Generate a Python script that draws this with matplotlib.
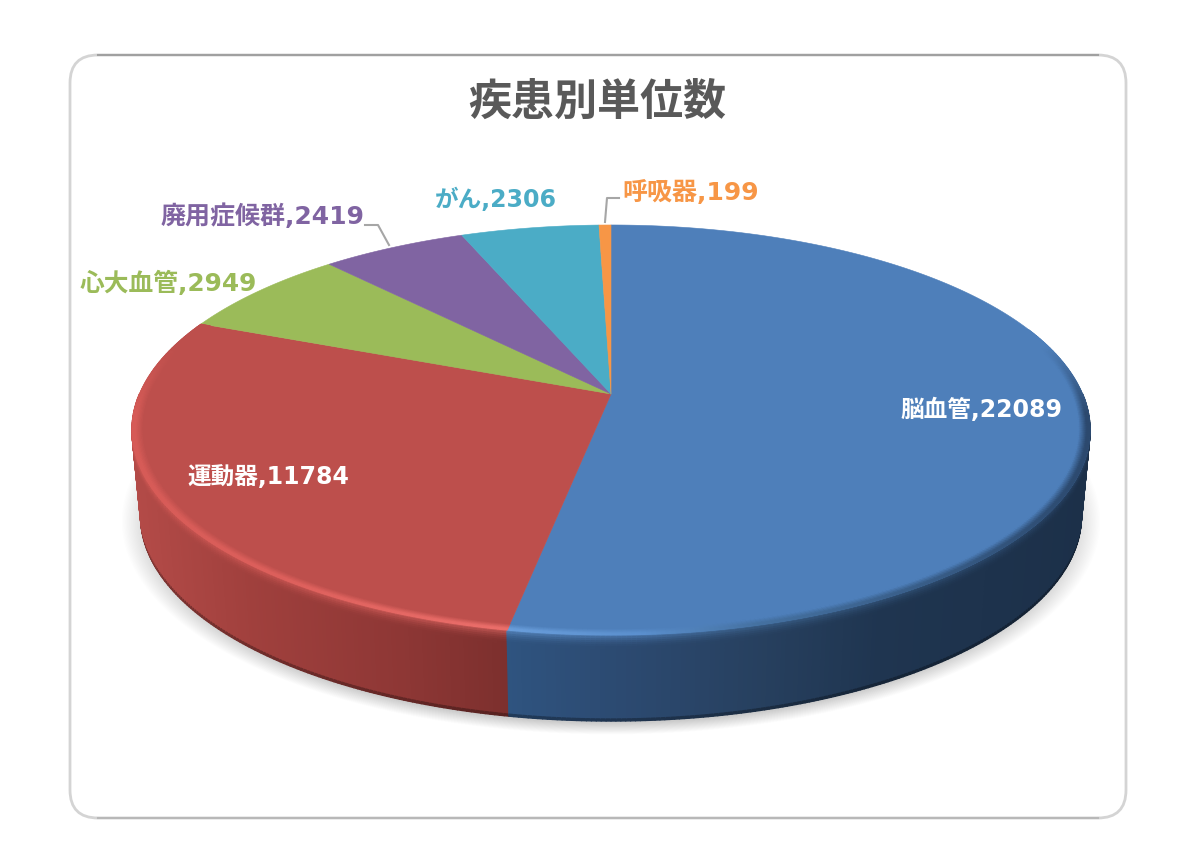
import numpy as np
import matplotlib
matplotlib.use("Agg")
import matplotlib.pyplot as plt
from matplotlib.collections import PolyCollection
from matplotlib.colors import to_rgb
from matplotlib.patches import FancyBboxPatch, Polygon

plt.rcParams['font.family'] = ['DejaVu Sans', 'Noto Sans CJK JP']

# data
categories = ['脳血管', '運動器', '心大血管', '廃用症候群', 'がん', '呼吸器']
values = [22089, 11784, 2949, 2419, 2306, 199]
colors = ['#4e7fba', '#bd4f4c', '#9bbb59', '#8064a2', '#4bacc6', '#f79646']
title = '疾患別単位数'

# where the labels sit (pixels)
label_pos = [(981, 410), (268, 477), (168, 283), (263, 216), (496, 200), (691, 192)]
label_colors = ['white', 'white', '#9bbb59', '#8064a2', '#4bacc6', '#f79646']
label_sizes = [17, 17, 17.8, 18, 17, 18]

# tilted disc, the apex is not the centre of the ellipse because of perspective
CX, CY = 611, 394
K, C, D = 198.7, 0.1756, 471.6
DEPTH, SHRINK = 86, 0.982


def disc(theta, r=1.0):
    u = r * np.sin(theta)
    v = r * np.cos(theta)
    w = 1 + C * v
    return CX + D * u / w, CY - K * v / w


def under(x, y):
    return CX + (x - CX) * SHRINK, y + DEPTH


def mix(a, b, t):
    a = np.array(to_rgb(a))
    b = np.array(to_rgb(b))
    return tuple(a + (b - a) * t)


def ramp(x, xs, cols):
    rgb = np.array([to_rgb(c) for c in cols])
    return tuple(np.interp(x, xs, rgb[:, i]) for i in range(3))


fig = plt.figure(figsize=(12, 8.49), dpi=100)
ax = fig.add_axes([0, 0, 1, 1])
ax.set_xlim(0, 1200)
ax.set_ylim(849, 0)
ax.axis('off')

# chart frame
frame = FancyBboxPatch((70 + 28, 55 + 28), 1056 - 56, 763 - 56,
                       boxstyle='round,pad=28,rounding_size=28',
                       fc='white', ec='#d4d4d4', lw=2, zorder=1)
ax.add_patch(frame)
ax.plot([98, 1098], [55, 55], color='#a0a0a0', lw=1.5, zorder=1.1)
ax.plot([98, 1098], [818, 818], color='#b8b8b8', lw=1.5, zorder=1.1)

ax.text(597, 103, title, fontsize=31, fontweight='bold', color='#595959',
        ha='center', va='center', zorder=6)

# angles from the values, clockwise from 12 o'clock
fractions = np.array(values) / np.sum(values)
edges = np.concatenate([[0], np.cumsum(fractions)]) * 2 * np.pi

# soft shadow under the disc
t_all = np.linspace(0, 2 * np.pi, 361)
xb, yb = under(*disc(t_all))
for s in np.linspace(1.04, 0.97, 26):
    sx = CX + (xb - CX) * s
    sy = 560 + (yb - 560) * s + 7
    ax.add_patch(Polygon(np.c_[sx, sy], fc='black', ec='none', alpha=0.009, zorder=2))

# side wall, cut in small strips for the gradient
blue_x = [505, 620, 760, 880, 1090]
blue_c = ['#2f5480', '#2c4a71', '#27405f', '#1f3550', '#1c3049']
red_x = [130, 250, 400, 515]
red_c = ['#b44b48', '#a0403d', '#8e3735', '#7b2f2d']
blue_hl = [505, 640, 760, 1090]
blue_hc = ['#6b9fdc', '#5b90cf', '#44709f', '#2a466a']
red_hl = [130, 300, 515]
red_hc = ['#d85c58', '#e0625e', '#ee716d']

thetas = np.radians(np.arange(90, 270.5, 0.5))
# far strips first so the nearer ones paint over them
order = np.argsort(-np.cos((thetas[:-1] + thetas[1:]) / 2))
polys, cols = [], []
slices = [0, 2, 4, 6, 8, 10, 12, 15, 19, 24, 84, 86]
for k in order:
    a, b = thetas[k], thetas[k + 1]
    mid = (a + b) / 2
    xm, _ = disc(mid)
    is_blue = mid < edges[1]
    wall = ramp(xm, blue_x, blue_c) if is_blue else ramp(xm, red_x, red_c)
    hl = ramp(xm, blue_hl, blue_hc) if is_blue else ramp(xm, red_hl, red_hc)
    xa, ya = disc(a)
    xc, yc = disc(b)
    for d0, d1 in zip(slices[:-1], slices[1:]):
        f0, f1 = d0 / DEPTH, d1 / DEPTH
        pa0 = (CX + (xa - CX) * (1 - (1 - SHRINK) * f0), ya + d0)
        pa1 = (CX + (xa - CX) * (1 - (1 - SHRINK) * f1), ya + d1)
        pb0 = (CX + (xc - CX) * (1 - (1 - SHRINK) * f0), yc + d0)
        pb1 = (CX + (xc - CX) * (1 - (1 - SHRINK) * f1), yc + d1)
        polys.append([pa0, pb0, pb1, pa1])
        if d0 >= 84:
            cols.append(mix(wall, 'black', 0.3))
        else:
            cols.append(mix(wall, hl, max(0.0, 1 - (d0 + 1) / 14) ** 2 * 0.7))
ax.add_collection(PolyCollection(polys, facecolors=cols, edgecolors=cols, linewidths=1.0, zorder=3))

# top face
for i, col in enumerate(colors):
    t = np.linspace(edges[i], edges[i + 1], max(int(np.degrees(edges[i + 1] - edges[i])) * 2, 4))
    x, y = disc(t)
    pts = np.r_[[[CX, CY]], np.c_[x, y]]
    ax.add_patch(Polygon(pts, fc=col, ec=col, lw=0.4, zorder=4, joinstyle='round'))

# bevel along the front edge of the top face
rings = np.linspace(1.0, 0.975, 11)
bevel = np.radians(np.arange(70, np.degrees(edges[2]), 0.5))
polys, cols = [], []
for a, b in zip(bevel[:-1], bevel[1:]):
    mid = (a + b) / 2
    xm, _ = disc(mid)
    is_blue = mid < edges[1]
    face = colors[0] if is_blue else colors[1]
    hl = ramp(xm, blue_hl, blue_hc) if is_blue else ramp(xm, red_hl, red_hc)
    # fades out towards the far side of the disc
    fade = np.clip((0.25 - np.cos(mid)) / 0.35, 0, 1)
    for j, (r0, r1) in enumerate(zip(rings[:-1], rings[1:])):
        pos = j / (len(rings) - 2)
        amount = fade * (0.95 if pos < 0.3 else 0.95 * (1 - pos) / 0.7)
        xa0, ya0 = disc(a, r0)
        xa1, ya1 = disc(a, r1)
        xb0, yb0 = disc(b, r0)
        xb1, yb1 = disc(b, r1)
        polys.append([(xa0, ya0), (xb0, yb0), (xb1, yb1), (xa1, ya1)])
        cols.append(mix(face, hl, amount))
ax.add_collection(PolyCollection(polys, facecolors=cols, edgecolors=cols, linewidths=0.6, zorder=4.5))

# leader lines
ax.plot([365, 378, 389], [225, 225, 245], color='#a6a6a6', lw=1.5, zorder=5)
ax.plot([619, 607, 605], [198, 198, 222], color='#a6a6a6', lw=1.5, zorder=5)

# data labels
for name, val, pos, col, size in zip(categories, values, label_pos, label_colors, label_sizes):
    ax.text(pos[0], pos[1], f'{name},{val}', color=col, fontsize=size, fontweight='bold',
            ha='center', va='center', zorder=6)

fig.savefig('out.png', dpi=100, facecolor='white')
